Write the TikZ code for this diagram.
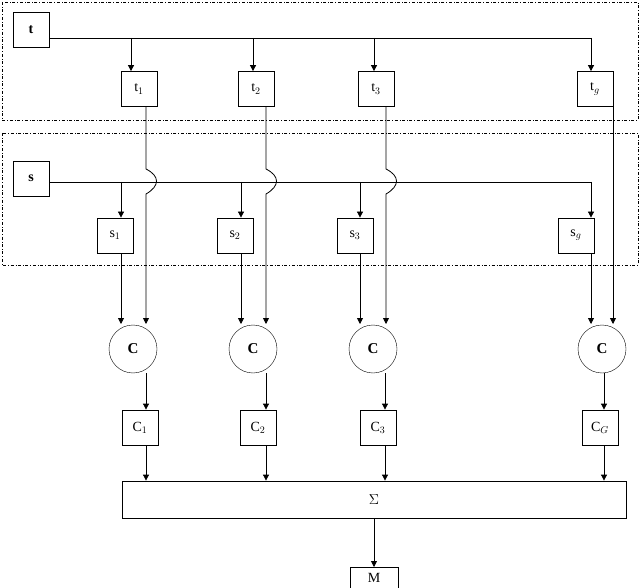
\documentclass[tikz,border=0pt]{standalone}
\usepackage{fontspec}
\setmainfont{Liberation Serif}
\usetikzlibrary{arrows.meta,calc}
\begin{document}
\begin{tikzpicture}[x=1pt,y=-1pt,
  box/.style={draw,thick,minimum width=36pt,minimum height=35pt,inner sep=0pt,font=\fontsize{14}{16}\selectfont},
  circ/.style={draw,circle,minimum size=48pt,inner sep=0pt,font=\fontsize{15}{17}\selectfont\bfseries},
  grp/.style={draw,dash dot,thin},
  arr/.style={-{Triangle[length=6pt,width=6pt]},thick},
  ln/.style={thick}]
\useasboundingbox (0,0) rectangle (640,588);
\draw[grp] (2,2) rectangle (638,120);
\draw[grp] (2,133) rectangle (638,265);
\node[box] (t) at (31,29.5) {\bfseries t};
\node[box] (s) at (31,178.5) {\bfseries s};
\foreach \n/\x/\lab in {1/139/{t$_1$},2/256/{t$_2$},3/376/{t$_3$},g/595/{t$_g$}}
  \node[box] (t\n) at (\x,89) {\lab};
\foreach \n/\x/\lab in {1/115/{s$_1$},2/235/{s$_2$},3/355/{s$_3$},g/576/{s$_g$}}
  \node[box] (s\n) at (\x,235.5) {\lab};
\foreach \n/\x in {1/133,2/253,3/373,g/602}
  \node[circ] (c\n) at (\x,349) {C};
\node[box] (C1) at (140,427.5) {C$_1$};
\node[box] (C2) at (258,427.5) {C$_2$};
\node[box] (C3) at (378,427.5) {C$_3$};
\node[box] (Cg) at (600,427.5) {C$_G$};
\node[draw,thick,minimum width=504pt,minimum height=37pt,inner sep=0pt,font=\fontsize{14}{16}\selectfont] (S) at (374,499.5) {$\Sigma$};
\node[box,minimum width=48pt,minimum height=22pt,anchor=north] (M) at (374,567) {M};
% t bus
\draw[ln] (t.east |- 0,38) -- (591,38);
\foreach \n/\x in {1/131,2/253,3/374,g/591}
  \draw[arr] (\x,38) -- (\x,0 |- t\n.north);
% s bus
\draw[ln] (s.east |- 0,182) -- (591,182);
\foreach \n/\x in {1/121,2/241,3/360,g/591}
  \draw[arr] (\x,182) -- (\x,0 |- s\n.north);
% t lines with hops
\foreach \n/\x in {1/146,2/266,3/386}{
  \draw[arr] (\x,0 |- t\n.south) -- (\x,169) .. controls (\x+14,176) and (\x+14,186) .. (\x,194) -- (\x,324);
}
\draw[arr] (613,0 |- tg.south) -- (613,324);
% s lines to circles
\foreach \n/\x in {1/121,2/241,3/360,g/591}
  \draw[arr] (\x,0 |- s\n.south) -- (\x,324);
% circles to C boxes
\draw[arr] (146,0 |- c1.south) -- (146,0 |- C1.north);
\draw[arr] (266,0 |- c2.south) -- (266,0 |- C2.north);
\draw[arr] (385,0 |- c3.south) -- (385,0 |- C3.north);
\draw[arr] (604,0 |- cg.south) -- (604,0 |- Cg.north);
% C boxes to sum
\draw[arr] (146,0 |- C1.south) -- (146,0 |- S.north);
\draw[arr] (266,0 |- C2.south) -- (266,0 |- S.north);
\draw[arr] (385,0 |- C3.south) -- (385,0 |- S.north);
\draw[arr] (604,0 |- Cg.south) -- (604,0 |- S.north);
\draw[arr] (S.south) -- (M.north);
\end{tikzpicture}
\end{document}
